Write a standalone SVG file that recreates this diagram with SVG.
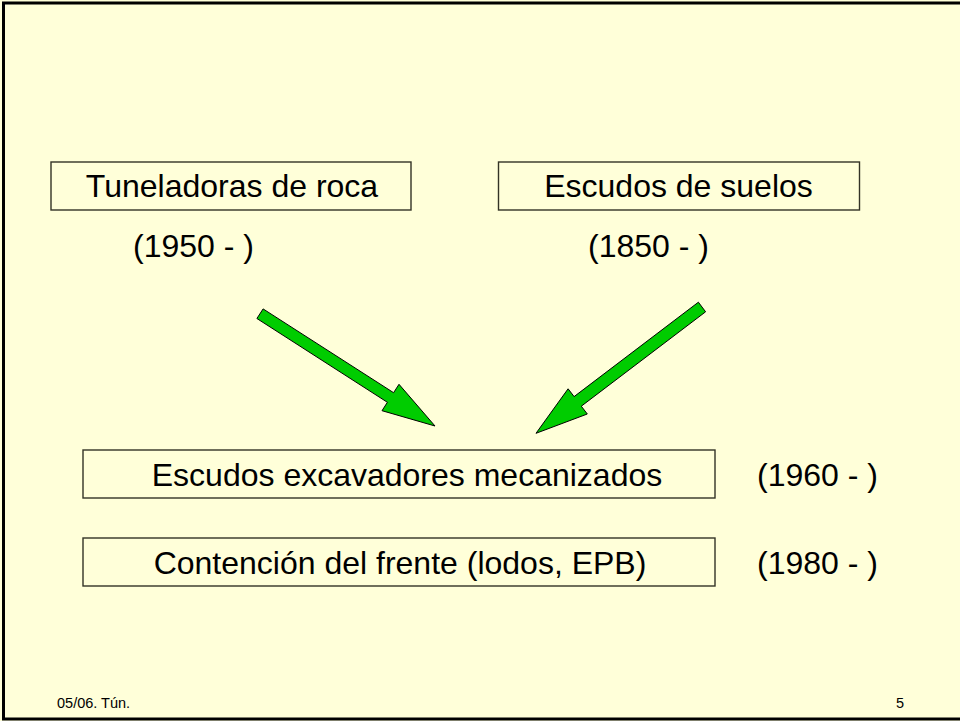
<svg xmlns="http://www.w3.org/2000/svg" width="960" height="721" viewBox="0 0 960 721">
  <style>
    .bg { fill: #FFFFD9; }
    .frame { fill: none; stroke: #000; stroke-width: 3; }
    .box { fill: #FFFFD9; stroke: #333326; stroke-width: 1.4; }
    .t { font-family: "Liberation Sans", Arial, sans-serif; font-size: 32px; fill: #000; }
    .mid { text-anchor: middle; }
    .foot { font-family: "Liberation Sans", Arial, sans-serif; font-size: 14.5px; fill: #000; }
    .arrow { fill: #00CC00; stroke: #000; stroke-width: 1; stroke-linejoin: miter; }
  </style>

  <rect class="bg" x="0" y="0" width="960" height="721"/>
  <rect class="frame" x="3.5" y="3" width="962" height="716"/>

  <g id="tuneladoras">
    <rect class="box" x="51" y="162" width="360" height="48"/>
    <text class="t mid" x="232" y="197">Tuneladoras de roca</text>
    <text class="t" x="133" y="257">(1950 - )</text>
  </g>

  <g id="escudos-suelos">
    <rect class="box" x="498.5" y="162" width="361" height="48"/>
    <text class="t mid" x="678.5" y="197">Escudos de suelos</text>
    <text class="t" x="588" y="257">(1850 - )</text>
  </g>

  <g id="escudos-mecanizados">
    <rect class="box" x="83" y="450" width="632" height="48"/>
    <text class="t mid" x="407" y="485.5">Escudos excavadores mecanizados</text>
    <text class="t" x="757" y="485.5">(1960 - )</text>
  </g>

  <g id="contencion">
    <rect class="box" x="83" y="538" width="632" height="48"/>
    <text class="t mid" x="400" y="573.5">Contención del frente (lodos, EPB)</text>
    <text class="t" x="757" y="573.5">(1980 - )</text>
  </g>

  <g id="connectors">
    <polygon class="arrow" points="263.1,308.9 393.6,392.7 399,384.3 435,426 382,410.7 387.4,402.3 256.9,318.5"/>
    <polygon class="arrow" points="698.4,302.2 574.1,396.6 568.1,388.8 536,433.3 587.3,414 581.3,406.2 705.6,311.8"/>
  </g>

  <g id="footer">
    <text class="foot" x="57" y="708">05/06. Tún.</text>
    <text class="foot" x="896" y="708">5</text>
  </g>
</svg>
